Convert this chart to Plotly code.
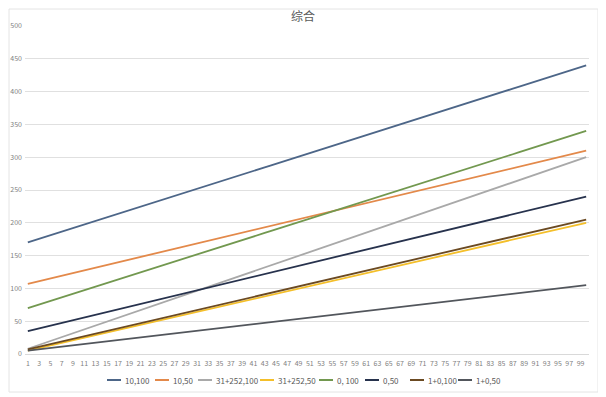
import plotly.graph_objects as go

categories = [str(i) for i in range(1, 101)]
tick_labels = [str(i) for i in range(1, 100, 2)]

s_10_100 = [170.0,172.7,175.5,178.2,180.9,183.6,186.4,189.1,191.8,194.5,197.3,
            200.0,202.7,205.5,208.2,210.9,213.6,216.4,219.1,221.8,224.5,227.3,
            230.0,232.7,235.5,238.2,240.9,243.6,246.4,249.1,251.8,254.5,257.3,
            260.0,262.7,265.5,268.2,270.9,273.6,276.4,279.1,281.8,284.5,287.3,
            290.0,292.7,295.5,298.2,300.9,303.6,306.4,309.1,311.8,314.5,317.3,
            320.0,322.7,325.5,328.2,330.9,333.6,336.4,339.1,341.8,344.5,347.3,
            350.0,352.7,355.5,358.2,360.9,363.6,366.4,369.1,371.8,374.5,377.3,
            380.0,382.7,385.5,388.2,390.9,393.6,396.4,399.1,401.8,404.5,407.3,
            410.0,412.7,415.5,418.2,420.9,423.6,426.4,429.1,431.8,434.5,437.3,
            440.0]
s_10_50 = [107.0,109.05,111.1,113.15,115.2,117.25,119.3,121.35,123.4,125.45,127.5,129.55,131.6,133.65,135.7,137.75,139.8,141.85,143.9,145.95,
           148.0,150.05,152.1,154.15,156.2,158.25,160.3,162.35,164.4,166.45,168.5,170.55,172.6,174.65,176.7,178.75,180.8,182.85,184.9,186.95,
           189.0,191.05,193.1,195.15,197.2,199.25,201.3,203.35,205.4,207.45,209.5,211.55,213.6,215.65,217.7,219.75,221.8,223.85,225.9,227.95,
           230.0,232.05,234.1,236.15,238.2,240.25,242.3,244.35,246.4,248.45,250.5,252.55,254.6,256.65,258.7,260.75,262.8,264.85,266.9,268.95,
           271.0,273.05,275.1,277.15,279.2,281.25,283.3,285.35,287.4,289.45,291.5,293.55,295.6,297.65,299.7,301.75,303.8,305.85,307.9,309.95]
s_31_252_100 = [8.0,10.95,13.9,16.85,19.8,22.75,25.7,28.65,31.6,34.55,37.5,40.45,43.4,46.35,49.3,52.25,55.2,58.15,61.1,64.05,
                67.0,69.95,72.9,75.85,78.8,81.75,84.7,87.65,90.6,93.55,96.5,99.45,102.4,105.35,108.3,111.25,114.2,117.15,120.1,123.05,
                126.0,128.95,131.9,134.85,137.8,140.75,143.7,146.65,149.6,152.55,155.5,158.45,161.4,164.35,167.3,170.25,173.2,176.15,179.1,182.05,
                185.0,187.95,190.9,193.85,196.8,199.75,202.7,205.65,208.6,211.55,214.5,217.45,220.4,223.35,226.3,229.25,232.2,235.15,238.1,241.05,
                244.0,246.95,249.9,252.85,255.8,258.75,261.7,264.65,267.6,270.55,273.5,276.45,279.4,282.35,285.3,288.25,291.2,294.15,297.1,300.05]
s_31_252_50 = [5.0,6.97,8.94,10.91,12.88,14.85,16.82,18.79,20.76,22.73,24.7,26.67,28.64,30.61,32.58,34.55,36.52,38.49,40.46,42.43,
               44.4,46.37,48.34,50.31,52.28,54.25,56.22,58.19,60.16,62.13,64.1,66.07,68.04,70.01,71.98,73.95,75.92,77.89,79.86,81.83,
               83.8,85.77,87.74,89.71,91.68,93.65,95.62,97.59,99.56,101.53,103.5,105.47,107.44,109.41,111.38,113.35,115.32,117.29,119.26,121.23,
               123.2,125.17,127.14,129.11,131.08,133.05,135.02,136.99,138.96,140.93,142.9,144.87,146.84,148.81,150.78,152.75,154.72,156.69,158.66,160.63,
               162.6,164.57,166.54,168.51,170.48,172.45,174.42,176.39,178.36,180.33,182.3,184.27,186.24,188.21,190.18,192.15,194.12,196.09,198.06,200.03]
s_0_100 = [70.0,72.7,75.5,78.2,80.9,83.6,86.4,89.1,91.8,94.5,97.3,
           100.0,102.7,105.5,108.2,110.9,113.6,116.4,119.1,121.8,124.5,127.3,
           130.0,132.7,135.5,138.2,140.9,143.6,146.4,149.1,151.8,154.5,157.3,
           160.0,162.7,165.5,168.2,170.9,173.6,176.4,179.1,181.8,184.5,187.3,
           190.0,192.7,195.5,198.2,200.9,203.6,206.4,209.1,211.8,214.5,217.3,
           220.0,222.7,225.5,228.2,230.9,233.6,236.4,239.1,241.8,244.5,247.3,
           250.0,252.7,255.5,258.2,260.9,263.6,266.4,269.1,271.8,274.5,277.3,
           280.0,282.7,285.5,288.2,290.9,293.6,296.4,299.1,301.8,304.5,307.3,
           310.0,312.7,315.5,318.2,320.9,323.6,326.4,329.1,331.8,334.5,337.3,
           340.0]
s_0_50 = [35.0,37.07,39.14,41.21,43.28,45.35,47.42,49.49,51.56,53.63,55.7,57.77,59.84,61.91,63.98,66.05,68.12,70.19,72.26,74.33,
          76.4,78.47,80.54,82.61,84.68,86.75,88.82,90.89,92.96,95.03,97.1,99.17,101.24,103.31,105.38,107.45,109.52,111.59,113.66,115.73,
          117.8,119.87,121.94,124.01,126.08,128.15,130.22,132.29,134.36,136.43,138.5,140.57,142.64,144.71,146.78,148.85,150.92,152.99,155.06,157.13,
          159.2,161.27,163.34,165.41,167.48,169.55,171.62,173.69,175.76,177.83,179.9,181.97,184.04,186.11,188.18,190.25,192.32,194.39,196.46,198.53,
          200.6,202.67,204.74,206.81,208.88,210.95,213.02,215.09,217.16,219.23,221.3,223.37,225.44,227.51,229.58,231.65,233.72,235.79,237.86,239.93]
s_1_0_100 = [7,9,11,13,15,17,19,21,23,25,27,29,31,33,35,37,39,41,43,45,
             47,49,51,53,55,57,59,61,63,65,67,69,71,73,75,77,79,81,83,85,
             87,89,91,93,95,97,99,101,103,105,107,109,111,113,115,117,119,121,123,125,
             127,129,131,133,135,137,139,141,143,145,147,149,151,153,155,157,159,161,163,165,
             167,169,171,173,175,177,179,181,183,185,187,189,191,193,195,197,199,201,203,205]
s_1_0_50 = [5.0,6.01,7.02,8.03,9.04,10.05,11.06,12.07,13.08,14.09,15.1,16.11,17.12,18.13,19.14,20.15,21.16,22.17,23.18,24.19,
            25.2,26.21,27.22,28.23,29.24,30.25,31.26,32.27,33.28,34.29,35.3,36.31,37.32,38.33,39.34,40.35,41.36,42.37,43.38,44.39,
            45.4,46.41,47.42,48.43,49.44,50.45,51.46,52.47,53.48,54.49,55.5,56.51,57.52,58.53,59.54,60.55,61.56,62.57,63.58,64.59,
            65.6,66.61,67.62,68.63,69.64,70.65,71.66,72.67,73.68,74.69,75.7,76.71,77.72,78.73,79.74,80.75,81.76,82.77,83.78,84.79,
            85.8,86.81,87.82,88.83,89.84,90.85,91.86,92.87,93.88,94.89,95.9,96.91,97.92,98.93,99.94,100.95,101.96,102.97,103.98,104.99]

series_names = ["10,100", "10,50", "31+252,100", "31+252,50", "0, 100", "0,50", "1+0,100", "1+0,50"]
series_values = [s_10_100, s_10_50, s_31_252_100, s_31_252_50, s_0_100, s_0_50, s_1_0_100, s_1_0_50]
colors = ["#4d6688", "#e3894a", "#a9a9a9", "#f4bf2a", "#72984f", "#27324d", "#6b4a22", "#52565c"]

# page has an 8px body margin; work in page pixels and convert
OFF = 8
PAGE_W, PAGE_H = 606, 397
W, H = PAGE_W - OFF, PAGE_H - OFF
PLOT_L, PLOT_R, PLOT_T, PLOT_B = 25, 589, 26, 354  # page pixels
ML, MR, MT, MB = PLOT_L - OFF, W + OFF - PLOT_R, PLOT_T - OFF, H + OFF - PLOT_B
PW, PH = PLOT_R - PLOT_L, PLOT_B - PLOT_T

def px_x(p):
    return (p - PLOT_L) / PW

def px_y(p):
    return (PLOT_B - p) / PH

fig = go.Figure()
for i in range(len(series_names)):
    fig.add_trace(go.Scatter(
        x=categories, y=series_values[i], mode="lines", name=series_names[i],
        line=dict(color=colors[i], width=1.8), showlegend=False,
    ))

font_family = "Noto Sans CJK SC"
tick_color = "#7f7f7f"

# manual legend (Excel-style short line + label)
legend_starts = [107, 155, 198, 260, 319, 365, 410, 458]
legend_y = 380
shapes = []
annotations = []
for i, name in enumerate(series_names):
    x0 = legend_starts[i]
    shapes.append(dict(type="line", xref="paper", yref="paper",
                       x0=px_x(x0), x1=px_x(x0 + 14), y0=px_y(legend_y), y1=px_y(legend_y),
                       line=dict(color=colors[i], width=2)))
    annotations.append(dict(text=name, xref="paper", yref="paper",
                            x=px_x(x0 + 16), y=px_y(legend_y), xanchor="left", yanchor="middle",
                            showarrow=False, font=dict(size=8, color="#595959", family=font_family)))

# title as annotation placed in page pixels
annotations.append(dict(text="综合", xref="paper", yref="paper",
                        x=px_x(303), y=px_y(16), xanchor="center", yanchor="middle",
                        showarrow=False, font=dict(size=12, color="#595959", family=font_family)))

# faint chart border
shapes.append(dict(type="rect", xref="paper", yref="paper",
                   x0=px_x(9), x1=px_x(598), y0=px_y(392), y1=px_y(9),
                   line=dict(color="#e4e4e4", width=1), layer="below"))

fig.update_layout(
    width=W, height=H,
    margin=dict(l=ML, r=MR, t=MT, b=MB, autoexpand=False),
    paper_bgcolor="white", plot_bgcolor="white",
    xaxis=dict(type="category", categoryorder="array", categoryarray=categories,
               tickmode="array", tickvals=tick_labels, ticktext=tick_labels,
               range=[-0.5, 99.5], showgrid=False, showline=True, linecolor="#d9d9d9",
               linewidth=1, ticks="", tickangle=0, automargin=False, ticklabelstandoff=3,
               tickfont=dict(size=7, color=tick_color, family=font_family)),
    yaxis=dict(range=[0, 500], tickmode="array", tickvals=[0, 50, 100, 150, 200, 250, 300, 350, 400, 450, 500],
               showgrid=True, gridcolor="#e0e0e0", gridwidth=1, zeroline=False, ticks="",
               automargin=False, ticklabelstandoff=2,
               tickfont=dict(size=7, color=tick_color, family=font_family)),
    shapes=shapes, annotations=annotations,
)

fig.write_html("out.html")
